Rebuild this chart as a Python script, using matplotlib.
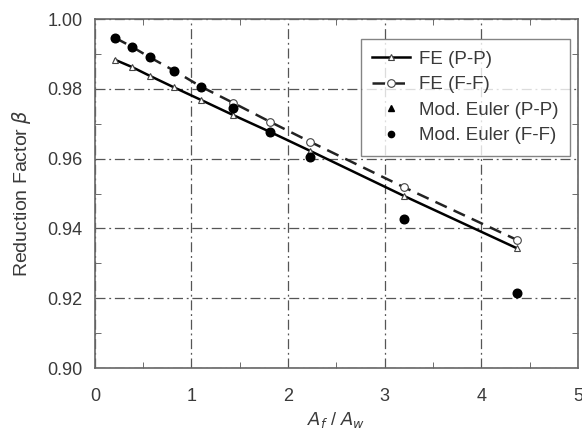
import matplotlib
matplotlib.use("Agg")
import matplotlib.pyplot as plt
from matplotlib.ticker import MultipleLocator, FormatStrFormatter

plt.rcParams['font.family'] = ['Liberation Sans', 'DejaVu Sans']

# data
x_fe = [0.21, 0.38, 0.57, 0.82, 1.10, 1.43, 1.81, 2.23, 3.20, 4.37]
fe_pp = [0.9883, 0.9863, 0.9837, 0.9804, 0.9768, 0.9725, 0.9677, 0.9622, 0.9493, 0.9343]
fe_ff = [0.9946, 0.9921, 0.9890, 0.9852, 0.9806, 0.9760, 0.9706, 0.9648, 0.9518, 0.9367]
euler_pp = [0.9946, 0.9921, 0.9890, 0.9851, 0.9804, 0.9744, 0.9677, 0.9606, 0.9426, 0.9214]
euler_ff = [0.9946, 0.9921, 0.9890, 0.9851, 0.9804, 0.9744, 0.9677, 0.9606, 0.9426, 0.9214]

txt = '#3a3a3a'

fig = plt.figure(figsize=(5.82, 4.32), dpi=100)
ax = fig.add_axes([0.163, 0.148, 0.830, 0.808])

ax.plot(x_fe, fe_pp, color='black', lw=1.8, marker='^', ms=4.5,
        mfc='white', mec='#444444', mew=0.8, label='FE (P-P)', zorder=3)
ax.plot(x_fe, fe_ff, color='#222222', lw=1.8, ls=(0, (5, 3)), marker='o', ms=5.5,
        mfc='white', mec='#444444', mew=0.8, label='FE (F-F)', zorder=3)
ax.plot(x_fe, euler_pp, ls='none', marker='^', ms=4.5, color='black',
        label='Mod. Euler (P-P)', zorder=4)
ax.plot(x_fe, euler_ff, ls='none', marker='o', ms=6.2, color='black',
        label='Mod. Euler (F-F)', zorder=5)

ax.set_xlim(0, 5)
ax.set_ylim(0.90, 1.00)
ax.xaxis.set_major_locator(MultipleLocator(1))
ax.xaxis.set_minor_locator(MultipleLocator(0.5))
ax.yaxis.set_major_locator(MultipleLocator(0.02))
ax.yaxis.set_minor_locator(MultipleLocator(0.01))
ax.yaxis.set_major_formatter(FormatStrFormatter('%.2f'))

ax.tick_params(which='both', direction='in', top=True, right=True,
               colors='#555555', labelcolor=txt, labelsize=13)
ax.tick_params(which='major', length=0)
ax.tick_params(axis='y', which='major', pad=9)
ax.tick_params(axis='x', which='major', pad=14)
ax.tick_params(which='minor', length=4)
for s in ax.spines.values():
    s.set_color('#666666')
    s.set_linewidth(1.2)

ax.grid(True, which='major', ls='-.', color='#555555', lw=0.9, dashes=(8, 3, 1.5, 3))

ax.set_xlabel('$A_f$ / $A_w$', fontsize=13, color=txt, labelpad=4)
ax.set_ylabel(r'Reduction Factor $\beta$', fontsize=14, color=txt, labelpad=10)

leg = ax.legend(loc='upper right', bbox_to_anchor=(0.983, 0.942), numpoints=1,
                fontsize=13.5, frameon=True, fancybox=False, edgecolor='#666666',
                handlelength=2.0, labelspacing=0.45, borderpad=0.6,
                handletextpad=0.5, borderaxespad=0)
leg.get_frame().set_linewidth(1.0)
for t in leg.get_texts():
    t.set_color(txt)
leg.legend_handles[2].set_markersize(4)
leg.legend_handles[3].set_markersize(4.5)

fig.savefig('out.png', dpi=100)
